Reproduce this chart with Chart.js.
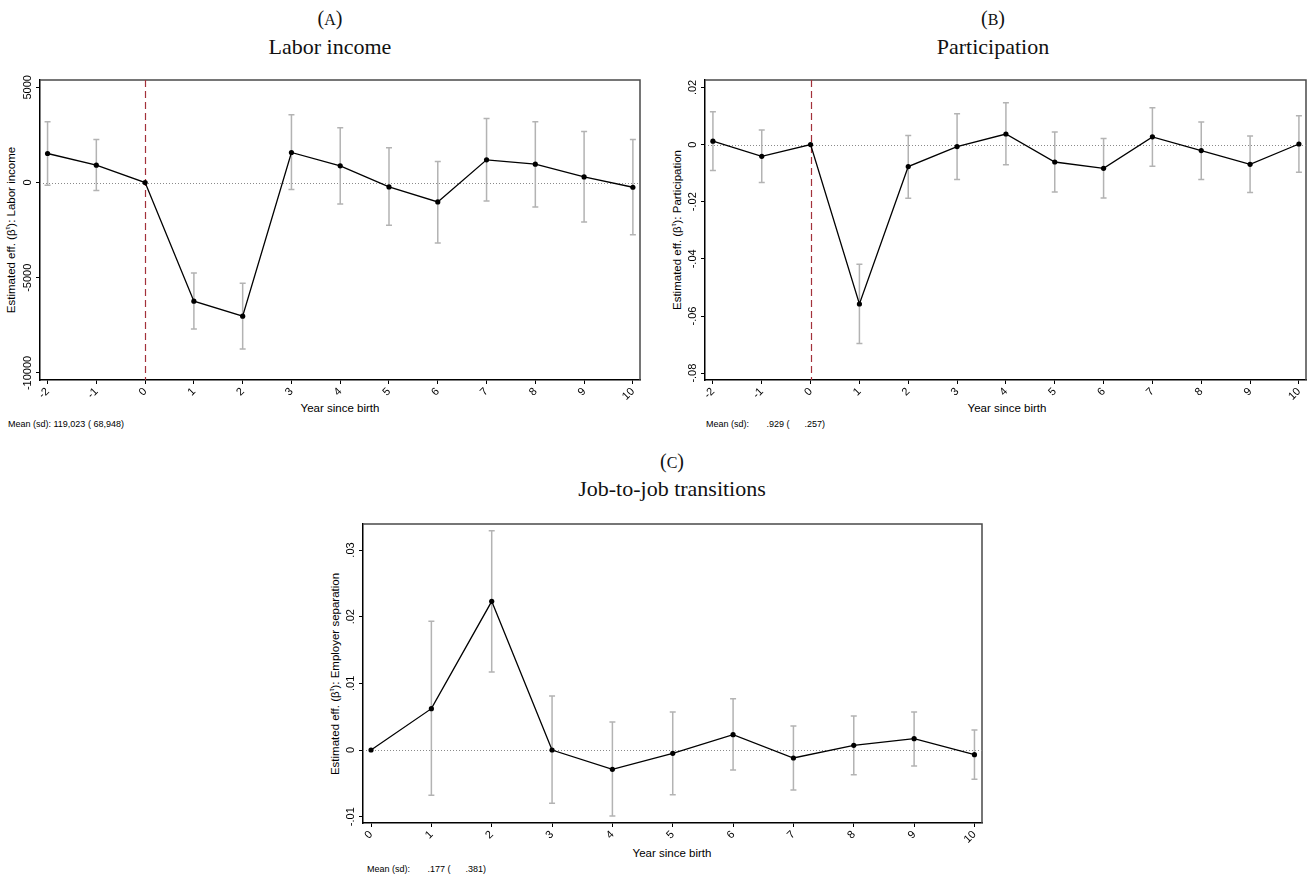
<!DOCTYPE html>
<html>
<head>
<meta charset="utf-8">
<script src="https://cdn.jsdelivr.net/npm/chart.js@4.4.1/dist/chart.umd.min.js"></script>
<style>
  html, body { margin: 0; padding: 0; background: #fff; }
  body { width: 1310px; height: 880px; position: relative; overflow: hidden;
         font-family: "Liberation Sans", Arial, sans-serif; color: #000; }
  canvas { position: absolute; }
  .ptitle { position: absolute; width: 500px; text-align: center; line-height: 1;
            font-family: "Liberation Serif", "Times New Roman", serif; color: #111;
            transform: translate(-50%, -50%); white-space: nowrap; }
  .ytitle { position: absolute; font-size: 11.5px; white-space: nowrap; line-height: 1;
            transform: translate(-50%, -50%) rotate(-90deg); }
  .ytitle sup { font-size: 7px; vertical-align: 5px; line-height: 0; }
  .xtitle { position: absolute; font-size: 11.5px; white-space: nowrap; line-height: 1;
            transform: translate(-50%, -50%); }
  .note { position: absolute; font-size: 9px; white-space: pre; line-height: 1; }
</style>
</head>
<body>

<div class="ptitle" style="left:330px; top:18px; font-size:20px;">(<span style="font-size:0.8em">A</span>)</div>
<div class="ptitle" style="left:330px; top:47px; font-size:22px;">Labor income</div>
<div class="ptitle" style="left:993px; top:18px; font-size:20px;">(<span style="font-size:0.8em">B</span>)</div>
<div class="ptitle" style="left:993px; top:47px; font-size:22px;">Participation</div>
<div class="ptitle" style="left:672px; top:461px; font-size:20px;">(<span style="font-size:0.8em">C</span>)</div>
<div class="ptitle" style="left:672px; top:489px; font-size:22px;">Job-to-job transitions</div>

<div class="ytitle" style="left:12px; top:230px;">Estimated eff. (β<sup>τ</sup>): Labor income</div>
<div class="ytitle" style="left:678px; top:230px;">Estimated eff. (β<sup>τ</sup>): Participation</div>
<div class="ytitle" style="left:336px; top:674px;">Estimated eff. (β<sup>τ</sup>): Employer separation</div>

<div class="xtitle" style="left:340px; top:409px;">Year since birth</div>
<div class="xtitle" style="left:1007px; top:409px;">Year since birth</div>
<div class="xtitle" style="left:672px; top:854px;">Year since birth</div>

<div class="note" style="left:8px; top:420px;">Mean (sd): 119,023 ( 68,948)</div>
<div class="note" style="left:706px; top:420px;">Mean (sd):       .929 (      .257)</div>
<div class="note" style="left:367px; top:865px;">Mean (sd):       .177 (      .381)</div>

<canvas id="panelA"></canvas>
<canvas id="panelB"></canvas>
<canvas id="panelC"></canvas>

<script>
// ---- Event-study estimates (point estimate, 95% CI bounds) ----
const yearsPre = [-2, -1, 0, 1, 2, 3, 4, 5, 6, 7, 8, 9, 10];

const incomeEst  = [1526, 912, 0, -6228, -7018, 1579, 877, -228, -1018, 1193, 965, 298, -246];
const incomeLow  = [-140, -421, null, -7684, -8737, -368, -1123, -2246, -3175, -965, -1281, -2070, -2737];
const incomeHigh = [3193, 2263, null, -4754, -5281, 3561, 2877, 1825, 1105, 3368, 3193, 2684, 2263];
const incomeTicks = [-10000, -5000, 0, 5000];

const partEst  = [0.0012, -0.0041, 0, -0.0558, -0.0077, -0.0007, 0.0037, -0.0061, -0.0083, 0.0027, -0.0021, -0.0069, 0.0002];
const partLow  = [-0.0091, -0.0133, null, -0.0696, -0.0188, -0.0122, -0.0071, -0.0166, -0.0187, -0.0076, -0.0122, -0.0168, -0.0097];
const partHigh = [0.0115, 0.0051, null, -0.0419, 0.0032, 0.0108, 0.0146, 0.0044, 0.0021, 0.0129, 0.0079, 0.0030, 0.0101];
const partTicks = [-0.08, -0.06, -0.04, -0.02, 0, 0.02];

const yearsPost = [0, 1, 2, 3, 4, 5, 6, 7, 8, 9, 10];
const sepEst  = [0, 0.0062, 0.0223, 0, -0.0029, -0.0005, 0.0023, -0.0012, 0.0007, 0.0017, -0.0007];
const sepLow  = [null, -0.0068, 0.0117, -0.0080, -0.0099, -0.0067, -0.0030, -0.0060, -0.0037, -0.0024, -0.0044];
const sepHigh = [null, 0.0193, 0.0329, 0.0081, 0.0042, 0.0057, 0.0077, 0.0036, 0.0051, 0.0057, 0.0030];
const sepTicks = [-0.01, 0, 0.01, 0.02, 0.03];

// ---- Styling / layout ----
const SANS = '"Liberation Sans", Arial, sans-serif';
const TICK_FONT_SIZE = 11;
const Y_AXIS_W = 40, X_AXIS_H = 30, PAD_TOP = 10, PAD_RIGHT = 4;

function stataNum(v) {
  if (v === 0) return '0';
  const s = Math.abs(v).toFixed(2).replace(/^0/, '');
  return (v < 0 ? '-' : '') + s;
}

const measureCtx = document.createElement('canvas').getContext('2d');
function widestLabel(labels) {
  measureCtx.font = TICK_FONT_SIZE + 'px ' + SANS;
  return Math.max(...labels.map(l => measureCtx.measureText(l).width));
}

// error bars with caps, reference lines and plot-region outline
const panelDecor = {
  id: 'panelDecor',
  beforeDatasetsDraw(chart, args, o) {
    const { ctx, chartArea: a, scales: { x, y } } = chart;
    ctx.save();
    // plot region outline (top + right; left/bottom are the axes)
    ctx.strokeStyle = '#4a4a4a';
    ctx.lineWidth = 1.5;
    ctx.beginPath();
    ctx.moveTo(a.left, a.top); ctx.lineTo(a.right, a.top); ctx.lineTo(a.right, a.bottom);
    ctx.stroke();
    // zero line
    const y0 = Math.round(y.getPixelForValue(0)) + 0.5;
    ctx.strokeStyle = '#8a8a8a';
    ctx.lineWidth = 1;
    ctx.setLineDash([1, 2]);
    ctx.beginPath(); ctx.moveTo(a.left, y0); ctx.lineTo(a.right, y0); ctx.stroke();
    // birth-year marker
    if (o.eventLine) {
      const x0 = Math.round(x.getPixelForValue(0)) + 0.5;
      ctx.strokeStyle = '#a3313a';
      ctx.lineWidth = 1.2;
      ctx.setLineDash([7, 4]);
      ctx.beginPath(); ctx.moveTo(x0, a.top); ctx.lineTo(x0, a.bottom); ctx.stroke();
    }
    ctx.setLineDash([]);
    // confidence intervals
    ctx.strokeStyle = '#b3b3b3';
    ctx.lineWidth = 1.5;
    o.xs.forEach((xv, i) => {
      if (o.low[i] == null) return;
      const px = x.getPixelForValue(xv);
      const pl = y.getPixelForValue(o.low[i]);
      const ph = y.getPixelForValue(o.high[i]);
      ctx.beginPath();
      ctx.moveTo(px, pl); ctx.lineTo(px, ph);
      ctx.moveTo(px - 3, pl); ctx.lineTo(px + 3, pl);
      ctx.moveTo(px - 3, ph); ctx.lineTo(px + 3, ph);
      ctx.stroke();
    });
    ctx.restore();
  }
};

function makePanel(id, box, xs, est, low, high, xRange, yRange, yTicks, yFmt, eventLine) {
  const cv = document.getElementById(id);
  const w = Y_AXIS_W + (box.right - box.left) + PAD_RIGHT;
  const h = PAD_TOP + (box.bottom - box.top) + X_AXIS_H;
  cv.width = w; cv.height = h;
  cv.style.width = w + 'px'; cv.style.height = h + 'px';
  cv.style.left = (box.left - Y_AXIS_W) + 'px';
  cv.style.top = (box.top - PAD_TOP) + 'px';

  const yLabelW = widestLabel(yTicks.map(yFmt));
  const yPad = 8 - yLabelW / 2;

  return new Chart(cv, {
    type: 'line',
    data: {
      datasets: [{
        data: xs.map((xv, i) => ({ x: xv, y: est[i] })),
        borderColor: '#000',
        borderWidth: 1.3,
        pointRadius: 2.6,
        pointBackgroundColor: '#000',
        pointBorderColor: '#000',
        pointBorderWidth: 0,
        tension: 0,
        fill: false
      }]
    },
    options: {
      responsive: false,
      animation: false,
      devicePixelRatio: 1,
      layout: { padding: { left: 0, right: PAD_RIGHT, top: PAD_TOP, bottom: 0 } },
      plugins: {
        legend: { display: false },
        tooltip: { enabled: false },
        panelDecor: { xs, low, high, eventLine }
      },
      scales: {
        x: {
          type: 'linear',
          min: xRange[0], max: xRange[1],
          afterBuildTicks: s => { s.ticks = xs.map(v => ({ value: v })); },
          afterFit: s => { s.height = X_AXIS_H; },
          grid: { drawOnChartArea: false, drawTicks: true, tickLength: 4, tickColor: '#000', tickWidth: 1 },
          border: { display: true, color: '#000', width: 1.5 },
          ticks: {
            minRotation: 45, maxRotation: 45, autoSkip: false, padding: 1,
            color: '#000', font: { family: SANS, size: TICK_FONT_SIZE },
            callback: v => String(v)
          }
        },
        y: {
          type: 'linear',
          min: yRange[0], max: yRange[1],
          afterBuildTicks: s => { s.ticks = yTicks.map(v => ({ value: v })); },
          afterFit: s => { s.width = Y_AXIS_W; },
          grid: { drawOnChartArea: false, drawTicks: true, tickLength: 4, tickColor: '#000', tickWidth: 1 },
          border: { display: true, color: '#000', width: 1.5 },
          ticks: {
            minRotation: 90, maxRotation: 90, crossAlign: 'center', padding: yPad,
            color: '#000', font: { family: SANS, size: TICK_FONT_SIZE },
            callback: yFmt
          }
        }
      }
    },
    plugins: [panelDecor]
  });
}

makePanel('panelA', { left: 40, right: 640, top: 80, bottom: 380 },
  yearsPre, incomeEst, incomeLow, incomeHigh,
  [-2.155, 10.146], [-10368, 5386], incomeTicks, v => String(v), true);

makePanel('panelB', { left: 705, right: 1306, top: 80, bottom: 380 },
  yearsPre, partEst, partLow, partHigh,
  [-2.162, 10.145], [-0.0824, 0.0226], partTicks, stataNum, true);

makePanel('panelC', { left: 363, right: 982, top: 524, bottom: 823 },
  yearsPost, sepEst, sepLow, sepHigh,
  [-0.133, 10.125], [-0.01095, 0.0339], sepTicks, stataNum, false);
</script>
</body>
</html>
